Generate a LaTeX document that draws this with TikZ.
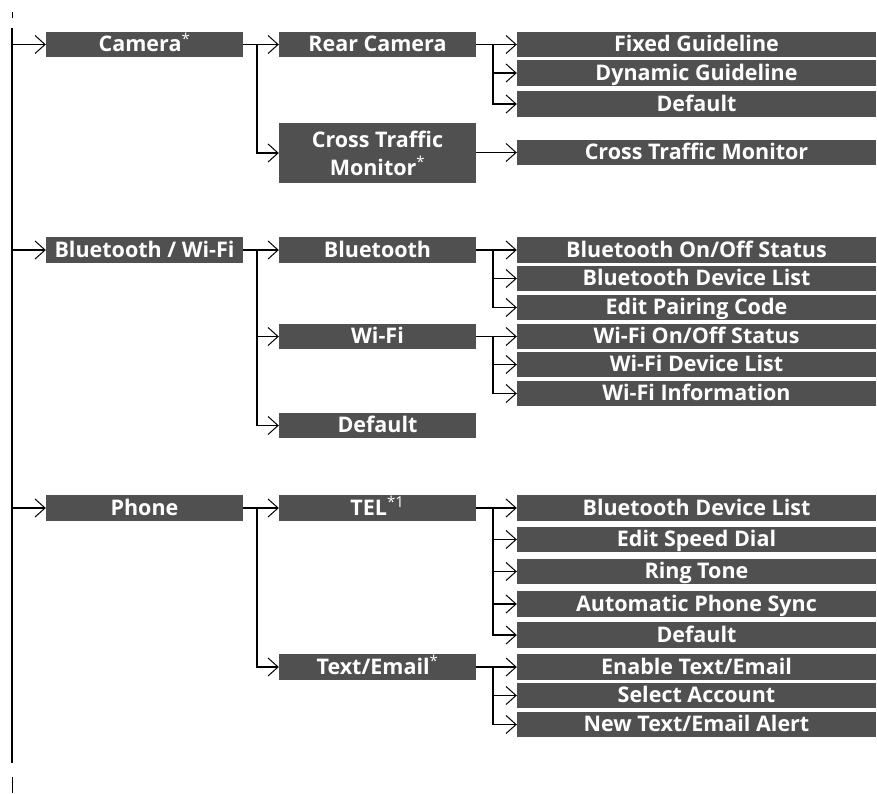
\documentclass[tikz,border=0pt]{standalone}
\usepackage{fontspec}
\setmainfont{Open Sans}
\usetikzlibrary{arrows.meta}
\definecolor{boxgray}{RGB}{80,80,80}

\begin{document}
\begin{tikzpicture}[
        x=1pt, y=-1pt,
        menu/.style={rectangle, fill=boxgray, text=white, inner sep=0pt, font=\fontsize{21.5}{28}\selectfont\bfseries, text height=15.5pt, text depth=1pt, minimum width=197pt, minimum height=25.5pt},
        item/.style={menu, minimum width=359pt},
        link/.style={line width=1.6pt, -{Straight Barb[length=10pt, width=18pt, line width=1pt]}},
        trunk/.style={line width=1.6pt},
    ]
        \useasboundingbox (0,0) rectangle (877,793);

        % Main trunk
        \coordinate (TOP) at (12,28);
        \coordinate (BOT) at (12,763);
        \draw[trunk] (TOP) -- (BOT);
        \draw[line width=1pt] (12,12) -- (12,18);
        \draw[line width=1pt] (12,777) -- (12,793);

        % Top level menus
        \node[menu] (CAM) at (144.5,44.5) {Camera\textsuperscript{\mdseries *}};
        \node[menu] (BTWIFI) at (144.5,250) {Bluetooth / Wi-Fi};
        \node[menu] (PHONE) at (144.5,508) {Phone};

        % Second level
        \node[menu] (REAR) at (377.5,44.5) {Rear Camera};
        \node[menu, minimum height=60pt, align=center, text height=, text depth=] (CTM) at (377.5,153) {Cross Traffic\\Monitor\textsuperscript{\mdseries *}};
        \node[menu] (BT) at (377.5,250) {Bluetooth};
        \node[menu] (WIFI) at (377.5,336.5) {Wi-Fi};
        \node[menu] (BWDEF) at (377.5,425.5) {Default};
        \node[menu] (TEL) at (377.5,508) {TEL\textsuperscript{\mdseries *1}};
        \node[menu] (TEXT) at (377.5,667) {Text/Email\textsuperscript{\mdseries *}};

        % Third level (camera)
        \node[item] (FIXED) at (696.5,44.5) {Fixed Guideline};
        \node[item] (DYN) at (696.5,73) {Dynamic Guideline};
        \node[item] (RCDEF) at (696.5,104) {Default};
        \node[item] (CTMON) at (696.5,152.5) {Cross Traffic Monitor};

        % Third level (bluetooth / wi-fi)
        \node[item] (BTSTAT) at (696.5,250) {Bluetooth On/Off Status};
        \node[item] (BTLIST) at (696.5,278.5) {Bluetooth Device List};
        \node[item] (PAIR) at (696.5,307.5) {Edit Pairing Code};
        \node[item] (WFSTAT) at (696.5,336.5) {Wi-Fi On/Off Status};
        \node[item] (WFLIST) at (696.5,364.5) {Wi-Fi Device List};
        \node[item] (WFINFO) at (696.5,393.5) {Wi-Fi Information};

        % Third level (phone)
        \node[item] (TLLIST) at (696.5,508) {Bluetooth Device List};
        \node[item] (SPEED) at (696.5,539.5) {Edit Speed Dial};
        \node[item] (RING) at (696.5,571.5) {Ring Tone};
        \node[item] (SYNC) at (696.5,604) {Automatic Phone Sync};
        \node[item] (TLDEF) at (696.5,635) {Default};
        \node[item] (ENABLE) at (696.5,667) {Enable Text/Email};
        \node[item] (ACCT) at (696.5,695.5) {Select Account};
        \node[item] (ALERT) at (696.5,724.5) {New Text/Email Alert};

        % Trunk to top level
        \draw[link] (TOP |- CAM.west) -- (CAM.west);
        \draw[link] (TOP |- BTWIFI.west) -- (BTWIFI.west);
        \draw[link] (TOP |- PHONE.west) -- (PHONE.west);

        % Top level to second level
        \coordinate (CAMJ) at ([xshift=14pt]CAM.east);
        \draw[link] (CAM.east) -- (REAR.west);
        \draw[link] (CAMJ) |- (CTM.west);
        \coordinate (BWJ) at ([xshift=14pt]BTWIFI.east);
        \draw[link] (BTWIFI.east) -- (BT.west);
        \draw[link] (BWJ) |- (WIFI.west);
        \draw[link] (BWJ) |- (BWDEF.west);
        \coordinate (PHJ) at ([xshift=14pt]PHONE.east);
        \draw[link] (PHONE.east) -- (TEL.west);
        \draw[link] (PHJ) |- (TEXT.west);

        % Second level to third level
        \coordinate (REARJ) at ([xshift=17pt]REAR.east);
        \draw[link] (REAR.east) -- (FIXED.west);
        \foreach \n in {DYN,RCDEF} \draw[link] (REARJ) |- (\n.west);
        \draw[link] (CTM.east |- CTMON.west) -- (CTMON.west);
        \coordinate (BTJ) at ([xshift=17pt]BT.east);
        \draw[link] (BT.east) -- (BTSTAT.west);
        \foreach \n in {BTLIST,PAIR} \draw[link] (BTJ) |- (\n.west);
        \coordinate (WIFIJ) at ([xshift=17pt]WIFI.east);
        \draw[link] (WIFI.east) -- (WFSTAT.west);
        \foreach \n in {WFLIST,WFINFO} \draw[link] (WIFIJ) |- (\n.west);
        \coordinate (TELJ) at ([xshift=17pt]TEL.east);
        \draw[link] (TEL.east) -- (TLLIST.west);
        \foreach \n in {SPEED,RING,SYNC,TLDEF} \draw[link] (TELJ) |- (\n.west);
        \coordinate (TEXTJ) at ([xshift=17pt]TEXT.east);
        \draw[link] (TEXT.east) -- (ENABLE.west);
        \foreach \n in {ACCT,ALERT} \draw[link] (TEXTJ) |- (\n.west);
    \end{tikzpicture}
\end{document}
